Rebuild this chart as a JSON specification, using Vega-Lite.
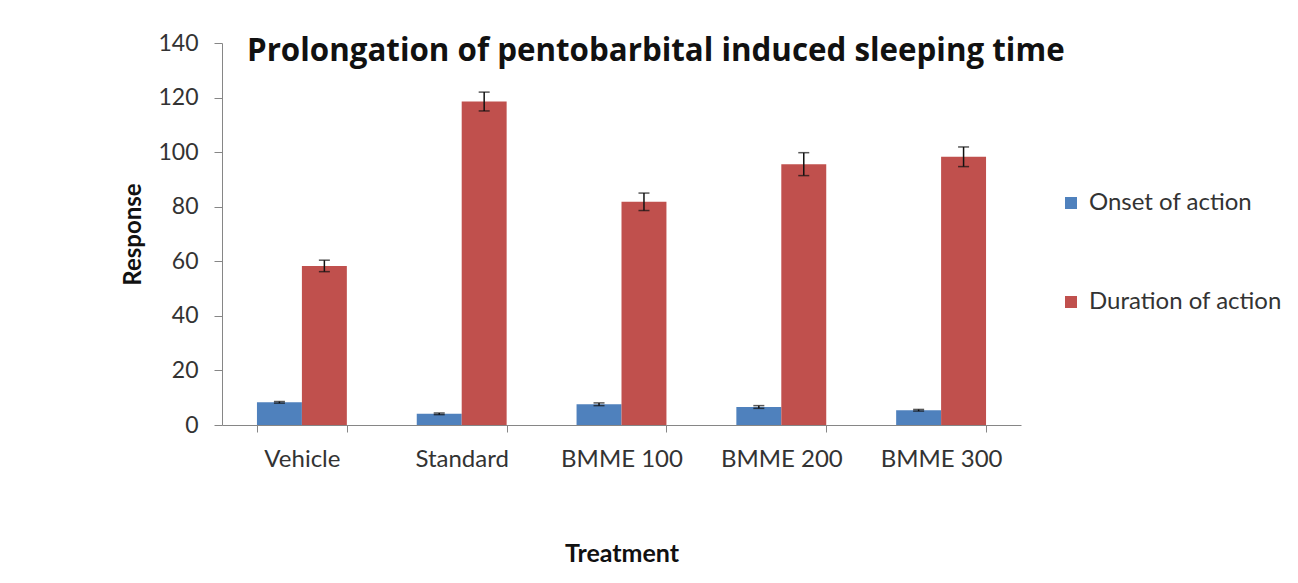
{
  "$schema": "https://vega.github.io/schema/vega-lite/v6.json",
  "autosize": {"type": "none"},
  "padding": {"left": 222, "top": 43, "right": 277, "bottom": 158},
  "width": 799,
  "height": 382,
  "background": "white",
  "config": {
    "view": {"stroke": null},
    "font": "Lato"
  },
  "title": {
    "text": "Prolongation of pentobarbital induced sleeping time",
    "anchor": "start",
    "frame": "group",
    "orient": "top",
    "offset": 0,
    "baseline": "alphabetic",
    "dx": 25,
    "dy": 60,
    "fontSize": 31.3,
    "fontWeight": "bold",
    "font": "Open Sans",
    "color": "#111111"
  },
  "data": {
    "values": [
      {"Treatment": "Vehicle", "Measure": "Onset of action", "Response": 8.3, "lo": 8.0, "hi": 8.6},
      {"Treatment": "Vehicle", "Measure": "Duration of action", "Response": 58.3, "lo": 56.2, "hi": 60.4},
      {"Treatment": "Standard", "Measure": "Onset of action", "Response": 4.1, "lo": 3.8, "hi": 4.4},
      {"Treatment": "Standard", "Measure": "Duration of action", "Response": 118.6, "lo": 115.1, "hi": 122.0},
      {"Treatment": "BMME 100", "Measure": "Onset of action", "Response": 7.6, "lo": 7.1, "hi": 8.1},
      {"Treatment": "BMME 100", "Measure": "Duration of action", "Response": 81.8, "lo": 78.6, "hi": 85.0},
      {"Treatment": "BMME 200", "Measure": "Onset of action", "Response": 6.6, "lo": 6.1, "hi": 7.1},
      {"Treatment": "BMME 200", "Measure": "Duration of action", "Response": 95.6, "lo": 91.4, "hi": 99.8},
      {"Treatment": "BMME 300", "Measure": "Onset of action", "Response": 5.4, "lo": 5.1, "hi": 5.7},
      {"Treatment": "BMME 300", "Measure": "Duration of action", "Response": 98.3, "lo": 94.7, "hi": 101.9}
    ]
  },
  "encoding": {
    "x": {
      "field": "Treatment",
      "type": "nominal",
      "sort": ["Vehicle", "Standard", "BMME 100", "BMME 200", "BMME 300"],
      "scale": {"paddingInner": 0.4375, "paddingOuter": 0.21875},
      "axis": {
        "title": "Treatment",
        "labelAngle": 0,
        "labelFontSize": 24,
        "labelColor": "#333333",
        "labelPadding": 15,
        "tickBand": "extent",
        "tickSize": 7,
        "tickColor": "#868686",
        "domainColor": "#868686",
        "titleFontSize": 25,
        "titleFontWeight": "bold",
        "titleColor": "#111111",
        "titlePadding": 70
      }
    },
    "xOffset": {
      "field": "Measure",
      "type": "nominal",
      "sort": ["Onset of action", "Duration of action"],
      "scale": {"paddingInner": 0, "paddingOuter": 0}
    }
  },
  "layer": [
    {
      "mark": {"type": "bar"},
      "encoding": {
        "y": {
          "field": "Response",
          "type": "quantitative",
          "scale": {"domain": [0, 140]},
          "axis": {
            "title": "Response",
            "values": [0, 20, 40, 60, 80, 100, 120, 140],
            "grid": false,
            "labelFontSize": 23,
            "labelColor": "#333333",
            "labelPadding": 16,
            "tickSize": 8,
            "tickColor": "#868686",
            "domainColor": "#868686",
            "titleFontSize": 24,
            "titleFontWeight": "bold",
            "titleColor": "#111111",
            "titlePadding": 12
          }
        },
        "color": {
          "field": "Measure",
          "type": "nominal",
          "sort": ["Onset of action", "Duration of action"],
          "scale": {"domain": ["Onset of action", "Duration of action"], "range": ["#4F81BD", "#C0504D"]},
          "legend": {
            "title": null,
            "orient": "none",
            "legendX": 837,
            "legendY": 148,
            "symbolType": "square",
            "symbolSize": 144,
            "symbolStrokeWidth": 0,
            "labelFontSize": 24,
            "labelLimit": 400,
            "labelColor": "#333333",
            "labelOffset": 6,
            "rowPadding": 75
          }
        }
      }
    },
    {
      "mark": {"type": "rule", "color": "#111111", "strokeWidth": 1.5},
      "encoding": {
        "y": {"field": "lo", "type": "quantitative"},
        "y2": {"field": "hi"}
      }
    },
    {
      "mark": {"type": "tick", "color": "#111111", "size": 11, "thickness": 1.5},
      "encoding": {
        "y": {"field": "lo", "type": "quantitative"}
      }
    },
    {
      "mark": {"type": "tick", "color": "#111111", "size": 11, "thickness": 1.5},
      "encoding": {
        "y": {"field": "hi", "type": "quantitative"}
      }
    }
  ]
}
